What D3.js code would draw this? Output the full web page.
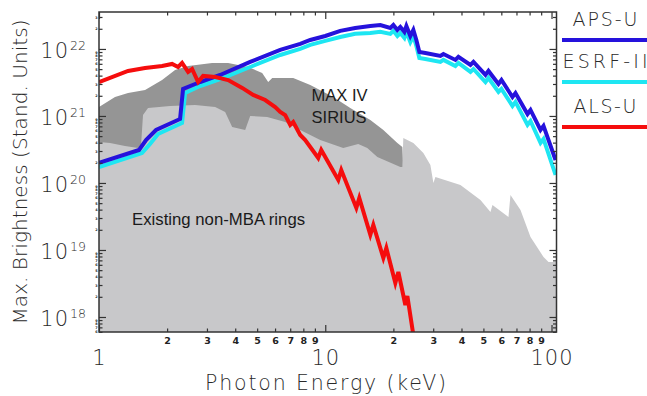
<!DOCTYPE html>
<html><head><meta charset="utf-8">
<script src="https://cdn.jsdelivr.net/npm/d3@7"></script>
<style>body{margin:0;background:#fff} svg{display:block}</style>
</head><body><svg id="c" width="647" height="396"></svg>
<script>
// ---- data (photon energy keV, brightness standard units) ----
const apsE = [1.0, 1.503, 1.614, 1.787, 2.282, 2.353, 2.798, 3.43, 4.658, 6.323, 7.75, 8.584, 10.0, 11.65, 13.57, 15.82, 17.51, 19.39, 20.0, 20.83, 21.47, 22.37, 22.83, 23.77, 24.51, 25.27, 26.05, 27.70, 32.28, 33.28, 37.60, 38.77, 43.82, 45.18, 51.05, 52.63, 58.28, 60.09, 67.21, 69.30, 78.31, 80.75, 89.41, 92.18, 104.2];
const apsB = [1.99e20, 3.11e20, 4.38e20, 6.18e20, 9.02e20, 2.53e21, 3.21e21, 4.09e21, 6.40e21, 9.66e21, 1.19e22, 1.36e22, 1.56e22, 1.86e22, 2.06e22, 2.20e22, 2.28e22, 2.06e22, 2.28e22, 1.92e22, 2.13e22, 1.80e22, 2.20e22, 1.56e22, 1.92e22, 1.36e22, 9.02e21, 8.71e21, 7.87e21, 8.41e21, 6.86e21, 7.60e21, 5.77e21, 6.40e21, 4.09e21, 4.70e21, 3.00e21, 3.44e21, 1.92e21, 2.20e21, 1.07e21, 1.23e21, 6.18e20, 7.10e20, 2.20e20];

const esrfE = [1.0, 1.549, 1.681, 1.824, 2.329, 2.402, 2.798, 3.43, 4.658, 6.323, 7.75, 8.584, 10.0, 11.65, 13.57, 15.82, 17.51, 19.39, 20.0, 20.83, 21.47, 22.37, 22.83, 23.77, 24.51, 25.27, 26.05, 27.70, 32.28, 33.28, 37.60, 38.77, 43.82, 45.18, 51.05, 52.63, 58.28, 60.09, 67.21, 69.30, 78.31, 80.75, 89.41, 92.18, 104.2];
const esrfB = [1.73e20, 2.80e20, 3.82e20, 5.38e20, 7.86e20, 2.20e21, 2.80e21, 3.56e21, 5.38e21, 8.13e21, 1.0e22, 1.15e22, 1.32e22, 1.51e22, 1.68e22, 1.73e22, 1.80e22, 1.68e22, 1.86e22, 1.56e22, 1.73e22, 1.46e22, 1.80e22, 1.27e22, 1.56e22, 1.11e22, 7.35e21, 7.10e21, 6.40e21, 6.86e21, 5.57e21, 6.18e21, 4.54e21, 5.02e21, 3.21e21, 3.69e21, 2.28e21, 2.53e21, 1.41e21, 1.62e21, 7.35e20, 8.41e20, 3.96e20, 4.54e20, 1.32e20];

const alsE = [1.0, 1.344, 1.598, 1.900, 2.104, 2.237, 2.329, 2.476, 2.580, 2.742, 2.885, 3.262, 3.723, 4.294, 4.802, 5.427, 6.008, 6.323, 6.653, 7.0, 7.218, 7.75, 8.155, 9.31, 9.60, 11.42, 11.77, 13.72, 14.14, 15.82, 16.31, 18.06, 18.62, 20.40, 21.04, 22.59, 23.06, 24.51];
const alsB = [3.21e21, 4.70e21, 5.20e21, 5.57e21, 5.97e21, 5.38e21, 6.18e21, 4.54e21, 5.02e21, 3.21e21, 3.96e21, 3.82e21, 3.44e21, 2.62e21, 2.06e21, 1.73e21, 1.36e21, 1.15e21, 1.03e21, 7.35e20, 8.13e20, 5.20e20, 4.38e20, 2.36e20, 3.11e20, 1.11e20, 1.56e20, 4.24e19, 5.97e19, 1.68e19, 2.36e19, 7.60e18, 1.07e19, 3.21e18, 4.70e18, 1.51e18, 2.06e18, 5.38e17];

// MAX IV / SIRIUS envelope (dark grey)
const mbaE = [1.0, 1.177, 1.344, 1.598, 1.900, 2.169, 2.476, 3.162, 3.723, 4.563, 5.263, 5.596, 5.83, 7.218, 8.584, 10.85, 12.90, 15.82, 18.06, 20.83, 21.91, 22.13];
const mbaB = [1.36e21, 1.92e21, 2.20e21, 2.44e21, 3.44e21, 4.86e21, 5.57e21, 6.18e21, 6.18e21, 5.38e21, 4.38e21, 3.21e21, 3.69e21, 3.69e21, 2.90e21, 1.92e21, 1.32e21, 8.71e20, 6.18e20, 3.96e20, 3.44e20, 1.73e20];

// Existing non-MBA rings envelope (light grey)
const oldE = [1.0, 1.119, 1.303, 1.488, 1.534, 1.565, 1.647, 2.062, 2.660, 3.262, 3.610, 3.878, 4.426, 4.658, 5.539, 6.653, 7.75, 9.504, 12.01, 13.99, 15.34, 16.99, 21.47, 21.91, 22.13, 24.51, 27.14, 29.15, 30.06, 30.67, 39.57, 48.52, 53.72, 54.82, 64.52, 65.86, 72.93, 80.75, 92.18, 96.98, 105.2];
const oldB = [4.09e20, 3.96e20, 3.56e20, 3.33e20, 3.69e20, 1.03e21, 1.32e21, 1.41e21, 1.46e21, 1.36e21, 1.15e21, 6.86e20, 6.18e20, 1.0e21, 9.66e20, 8.13e20, 6.18e20, 4.38e20, 3.33e20, 3.82e20, 3.33e20, 2.44e20, 1.73e20, 1.73e20, 4.70e20, 3.96e20, 2.80e20, 1.86e20, 1.0e20, 1.23e20, 9.33e19, 5.57e19, 3.69e19, 4.70e19, 3.11e19, 6.62e19, 3.96e19, 1.56e19, 7.86e18, 6.62e18, 6.62e18];

const xMajor = [1, 10, 100];
const xMinor = [2,3,4,5,6,7,8,9,20,30,40,50,60,70,80,90];
const yMajor = [1e18, 1e19, 1e20, 1e21, 1e22];
const yMajorExp = ["18", "19", "20", "21", "22"];
const seriesNames = ["APS-U", "ESRF-II", "ALS-U"];
const seriesColors = ["#2512dc", "#1ee6f2", "#f50d0d"];

// ---- layout ----
const L = 99, R = 556.5, T = 12, B = 332;
const x = d3.scaleLog().domain([1, 105.2]).range([L, R]);
const y = d3.scaleLog().domain([5.97e17, 3.56e22]).range([B, T]);

const svg = d3.select("#c");
const AX = "'DejaVu Sans', sans-serif";
const txtCol = "#2a2a2a";

svg.append("defs").append("clipPath").attr("id","clip")
  .append("rect").attr("x",L).attr("y",T).attr("width",R-L).attr("height",B-T);
const plot = svg.append("g").attr("clip-path","url(#clip)");

const zip = (E,V) => E.map((e,i)=>({e, b:V[i]}));
const area = d3.area().x(d=>x(d.e)).y0(B).y1(d=>y(d.b));
const line = d3.line().x(d=>x(d.e)).y(d=>y(d.b));

plot.append("path").datum(zip(mbaE,mbaB)).attr("d",area).attr("fill","#959595");
plot.append("path").datum(zip(oldE,oldB)).attr("d",area).attr("fill","#c8c8ca");

plot.append("path").datum(zip(esrfE,esrfB)).attr("d",line).attr("fill","none")
  .attr("stroke",seriesColors[1]).attr("stroke-width",4).attr("stroke-linejoin","miter");
plot.append("path").datum(zip(apsE,apsB)).attr("d",line).attr("fill","none")
  .attr("stroke",seriesColors[0]).attr("stroke-width",4).attr("stroke-linejoin","miter");
plot.append("path").datum(zip(alsE,alsB)).attr("d",line).attr("fill","none")
  .attr("stroke",seriesColors[2]).attr("stroke-width",4).attr("stroke-linejoin","miter");

// annotations
const ann = svg.append("g").attr("font-family","'Liberation Sans', Arial, sans-serif").attr("font-size",16.5).attr("fill","#1a1a1a");
ann.append("text").attr("x",x(8.7)).attr("y",y(1.7e21)+0.5).text("MAX IV");
ann.append("text").attr("x",x(8.7)).attr("y",y(8.2e20)+1).text("SIRIUS");
ann.append("text").attr("x",x(1.4)).attr("y",y(2.4e19)).attr("textLength",173).attr("lengthAdjust","spacingAndGlyphs").text("Existing non-MBA rings");

// ---- axes ----
const axCol = "#333";
const styleAxis = g => { g.select(".domain").remove(); g.selectAll("line").attr("stroke",axCol).attr("stroke-width",1.2); };
const mant = d => String(Math.round(d / Math.pow(10, Math.floor(Math.log10(d)+1e-9))));

// bottom minor
svg.append("g").attr("transform",`translate(0,${B})`)
  .call(d3.axisBottom(x).tickValues(xMinor).tickSize(-3.5).tickPadding(5).tickFormat(mant))
  .call(styleAxis)
  .call(g => g.selectAll("text").attr("font-family",AX).attr("font-size",9.5).attr("font-weight","bold").attr("fill","#222"));
// bottom major
svg.append("g").attr("transform",`translate(0,${B})`)
  .call(d3.axisBottom(x).tickValues(xMajor).tickSize(-7).tickPadding(18).tickFormat(d3.format("d")))
  .call(styleAxis)
  .call(g => g.selectAll("text").attr("font-family",AX).attr("font-size",21).attr("font-weight",200).attr("fill",txtCol).attr("letter-spacing",1));
// top
svg.append("g").attr("transform",`translate(0,${T})`)
  .call(d3.axisTop(x).tickValues(xMinor).tickSize(-3.5).tickFormat("")).call(styleAxis);
svg.append("g").attr("transform",`translate(0,${T})`)
  .call(d3.axisTop(x).tickValues(xMajor).tickSize(-7).tickFormat("")).call(styleAxis);

// y minor values
const yMinor = [];
yMajor.forEach(m => { for (let k=2;k<=9;k++) { const v=m*k/10; if (v>=5.97e17) yMinor.push(v);} });
yMinor.push(...[2,3].map(k=>1e22*k));
// left (with tiny minor labels as in the original)
svg.append("g").attr("transform",`translate(${L},0)`)
  .call(d3.axisLeft(y).tickValues(yMinor).tickSize(-3.5).tickPadding(1.5).tickFormat(mant))
  .call(styleAxis)
  .call(g => g.selectAll("text").attr("font-family",AX).attr("font-size",3.4).attr("font-weight","bold").attr("fill","#222"));
svg.append("g").attr("transform",`translate(${L},0)`)
  .call(d3.axisLeft(y).tickValues(yMajor).tickSize(-7).tickFormat("")).call(styleAxis);
// right
svg.append("g").attr("transform",`translate(${R},0)`)
  .call(d3.axisRight(y).tickValues(yMinor).tickSize(-3.5).tickFormat("")).call(styleAxis);
svg.append("g").attr("transform",`translate(${R},0)`)
  .call(d3.axisRight(y).tickValues(yMajor).tickSize(-7).tickFormat("")).call(styleAxis);

// y major labels 10^n
const yl = svg.append("g").attr("font-family",AX).attr("fill",txtCol).attr("font-weight",200);
yMajor.forEach((v,i) => {
  yl.append("text").attr("x",69).attr("y",y(v)+9).attr("text-anchor","end")
    .attr("font-size",21).attr("letter-spacing",1).text("10");
  yl.append("text").attr("x",70).attr("y",y(v)+1).attr("font-size",12.5).text(yMajorExp[i]);
});

// frame
svg.append("rect").attr("x",L).attr("y",T).attr("width",R-L).attr("height",B-T)
  .attr("fill","none").attr("stroke",axCol).attr("stroke-width",1.5);

// titles
svg.append("text").attr("x",(L+551)/2+0.5).attr("y",390).attr("text-anchor","middle")
  .attr("font-family",AX).attr("font-size",20.5).attr("font-weight",200).attr("fill",txtCol)
  .attr("textLength",241).attr("lengthAdjust","spacing").text("Photon Energy (keV)");
svg.append("text").attr("transform","translate(27,172) rotate(-90)").attr("text-anchor","middle")
  .attr("font-family",AX).attr("font-size",20).attr("font-weight",200).attr("fill",txtCol)
  .attr("textLength",305).attr("lengthAdjust","spacing").text("Max. Brightness (Stand. Units)");

// legend
const lg = svg.append("g");
const legY = [26, 68, 113];
const legW = [65, 85, 63];
seriesNames.forEach((n,i) => {
  lg.append("text").attr("x",605).attr("y",legY[i]).attr("text-anchor","middle")
    .attr("font-family",AX).attr("font-size",19).attr("font-weight",200).attr("fill",txtCol)
    .attr("textLength",legW[i]).attr("lengthAdjust","spacing").text(n);
  lg.append("line").attr("x1",562).attr("x2",647).attr("y1",legY[i]+14).attr("y2",legY[i]+14)
    .attr("stroke",seriesColors[i]).attr("stroke-width",4);
});
</script></body></html>
